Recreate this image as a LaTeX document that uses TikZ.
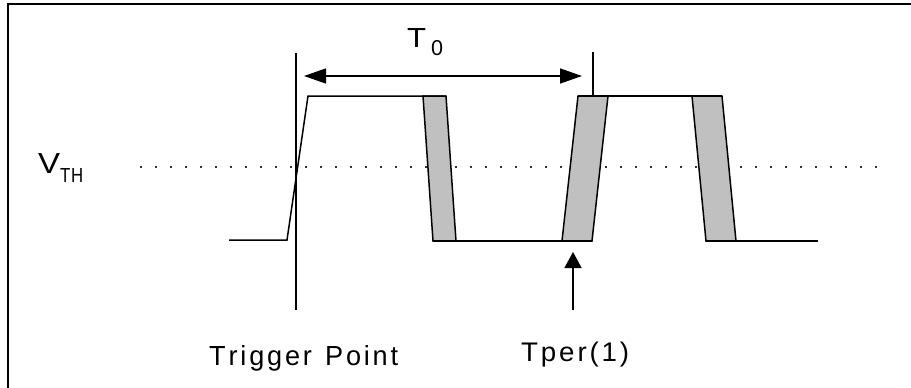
\documentclass[tikz,border=0pt]{standalone}
\usepackage{fontspec}
\usepackage{graphicx}
\newfontfamily\lab{Liberation Sans}
\usetikzlibrary{arrows.meta}
\definecolor{band}{RGB}{192,192,192}
\newcommand\ls{\kern2.8pt}
\newcommand\fitbox[3]{\resizebox{#1}{#2}{\lab\fontsize{27}{30}\selectfont #3}}
\tikzset{
  wave/.style={line width=1.5pt, black, line join=miter},
  bandfill/.style={wave, fill=band},
  marker/.style={line width=1.5pt, black},
  thr/.style={line width=1.5pt, black!80, dash pattern=on 1.5pt off 13.5pt},
  lbl/.style={inner sep=0pt, anchor=base west},
  tip/.style={-{Triangle[length=16pt,width=17pt]}},
  dtip/.style={{Triangle[length=22pt,width=15pt]}-{Triangle[length=22pt,width=15pt]}}
}
\begin{document}
\begin{tikzpicture}[x=1pt,y=-1pt]
\useasboundingbox (0,0) rectangle (911,388);
\fill[white] (0,0) rectangle (911,388);
% frame (top and left only visible)
\draw[line width=2pt] (8,388) -- (8,4) -- (911,4);
% threshold
\draw[thr] (140,167) -- (887,167);
% grey bands
\draw[bandfill] (423,96) -- (446,96) -- (456,241) -- (433,241) -- cycle;
\draw[bandfill] (562,241) -- (592,241) -- (608,96) -- (578,96) -- cycle;
\draw[bandfill] (692,96) -- (722,96) -- (736,241) -- (706,241) -- cycle;
% waveform
\draw[wave] (229,240) -- (287,240) -- (308,96) -- (446,96);
\draw[wave] (433,241) -- (592,241);
\draw[wave] (578,96) -- (722,96);
\draw[wave] (706,241) -- (818,241);
% markers
\coordinate (trigtop) at (296,53);
\coordinate (trigbot) at (296,310);
\coordinate (pertop) at (593,52);
\coordinate (perbot) at (593,96);
\draw[marker] (trigtop) -- (trigbot);
\draw[marker] (pertop) -- (perbot);
\coordinate (a0) at (304,76);
\coordinate (a1) at (582,76);
\draw[marker, dtip] (a0) -- (a1);
\coordinate (u0) at (573,310);
\coordinate (u1) at (573,252);
\draw[marker, tip] (u0) -- (u1);
% labels
\node[lbl] (vth) at (38,173) {\fitbox{22pt}{20pt}{V}};
\node[lbl] (vthsub) at (60,182) {\fitbox{23pt}{14pt}{T\kern1pt H}};
\node[lbl] (t0) at (407,47) {\fitbox{19pt}{19pt}{T}};
\node[lbl] (t0sub) at (431,55) {\fitbox{12pt}{15pt}{0}};
\node[lbl] (trig) at (209,365) {\fitbox{189pt}{20pt}{T\ls r\ls i\ls g\ls g\ls e\ls r\ls\ \ls P\ls o\ls i\ls n\ls t}};
\node[lbl] (tper) at (521,361) {\fitbox{108pt}{19.5pt}{T\ls p\ls e\ls r\ls(\ls 1\ls)}};
\end{tikzpicture}
\end{document}
